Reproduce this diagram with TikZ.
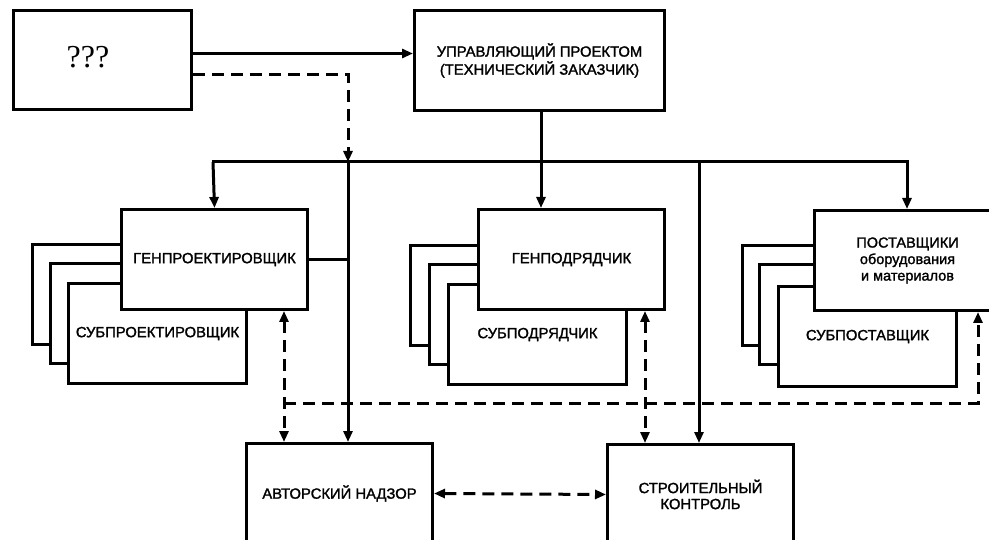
\documentclass[tikz,border=0pt]{standalone}
\usepackage{fontspec}
\setmainfont{Liberation Sans}
\newfontfamily\lbl[FakeBold=1.6]{Liberation Sans}
\newfontfamily\qfont{Liberation Serif}
\usetikzlibrary{arrows.meta}
\begin{document}
\begin{tikzpicture}[x=1pt,y=-1pt,
  txt/.style={font=\lbl\fontsize{14.8}{18}\selectfont},
  box/.style={draw, line width=3pt, fill=white, rectangle, anchor=north west,
    minimum width=186pt, minimum height=100pt, inner sep=0pt, align=center, txt},
  sub/.style={draw, line width=3pt, fill=white, rectangle, anchor=north west,
    minimum width=178pt, minimum height=100pt, inner sep=0pt},
  ln/.style={line width=3pt, line cap=rect},
  tip/.tip={Triangle[length=11pt,width=9pt]},
  arr/.style={line width=3pt, -tip},
  dsh/.style={line width=3pt, dash pattern=on 12pt off 7pt},
]
\clip (0,0) rectangle (989,540);
\fill[white] (0,0) rectangle (989,540);

% top boxes
\node[box, minimum width=178pt, minimum height=99pt] (q) at (12,9) {};
\node[font=\qfont\fontsize{32}{36}\selectfont] (qtxt) at (88,57) {???};
\node[box, minimum width=250pt] (upr) at (413,9)
  {УПРАВЛЯЮЩИЙ ПРОЕКТОМ\\(ТЕХНИЧЕСКИЙ ЗАКАЗЧИК)};

% Генпроектировщик group
\node[sub] (gps1) at (31,243) {};
\node[sub] (gps2) at (49,262) {};
\node[sub] (gps3) at (67,282) {};
\node[txt] (gpstxt) at (gps3.center) {СУБПРОЕКТИРОВЩИК};
\node[box] (gp) at (120,208) {ГЕНПРОЕКТИРОВЩИК};

% Генподрядчик group
\node[sub] (gds1) at (409,244) {};
\node[sub] (gds2) at (428,263) {};
\node[sub] (gds3) at (447,283) {};
\node[txt] (gdstxt) at (gds3.center) {СУБПОДРЯДЧИК};
\node[box] (gpod) at (477,208) {ГЕНПОДРЯДЧИК};

% Поставщики group
\node[sub] (pss1) at (741,244) {};
\node[sub] (pss2) at (758,263) {};
\node[sub] (pss3) at (777,285) {};
\node[txt] (psstxt) at (pss3.center) {СУБПОСТАВЩИК};
\node[box, font=\lbl\fontsize{14.5}{14}\selectfont] (post) at (813,209)
  {ПОСТАВЩИКИ\\[2.5pt]оборудования\\[2.5pt]и материалов};

% bottom boxes
\node[box] (avt) at (245,442) {АВТОРСКИЙ НАДЗОР};
\node[box, font=\lbl\fontsize{14.8}{16}\selectfont] (stk) at (606,443) {СТРОИТЕЛЬНЫЙ\\КОНТРОЛЬ};

% junction coordinates
\coordinate (busL) at (213,162);
\coordinate (busR) at (907,162);
\coordinate (j1) at (348,162);
\coordinate (j3) at (541,162);
\coordinate (j2) at (699,162);
\coordinate (dL) at (284,403);
\coordinate (dM) at (645,403);
\coordinate (dR) at (978,403);

% solid connectors
\draw[arr] ([yshift=6.5pt]q.east) -- ([yshift=6.5pt]q.east -| upr.west);
\draw[ln] (busL) -- (busR);
\draw[arr] (busL) -- (gp.north);
\draw[arr] (upr.south -| j3) -- (j3 |- gpod.north);
\draw[arr] (busR) -- (busR |- post.north);
\draw[arr] (j1) -- (j1 |- avt.north);
\draw[arr] (j2) -- (j2 |- stk.north);
\draw[ln] (gp.east) -- (gp.east -| j1);

% dashed connectors
\draw[dsh, -tip] ([yshift=-14.5pt]q.east) -| (j1);
\draw[dsh, tip-tip] (dL |- gp.south) -- (dL |- avt.north);
\draw[dsh, -tip] (dL) -| (dR |- post.south);
\draw[dsh, tip-tip] (dM |- gpod.south) -- (dM |- stk.north);
\draw[dsh, tip-tip] (avt.east) -- (stk.west);
\end{tikzpicture}
\end{document}
